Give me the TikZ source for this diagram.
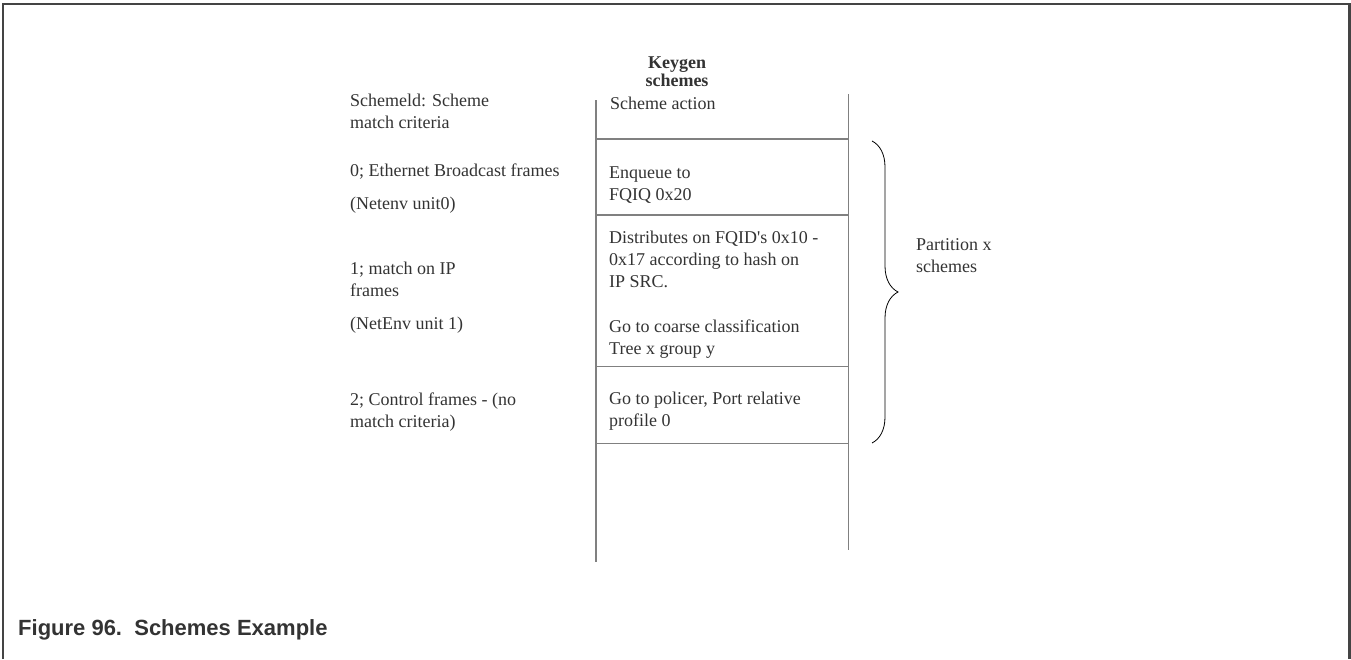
\documentclass[tikz,border=0pt]{standalone}
\usepackage{fontspec}
\setmainfont{Liberation Serif}
\newfontfamily\capfont{Liberation Sans}
\usetikzlibrary{decorations.pathreplacing}
\definecolor{framec}{HTML}{444444}
\definecolor{tablec}{HTML}{808080}
\definecolor{txt}{HTML}{333333}
\begin{document}
\begin{tikzpicture}[x=1pt,y=-1pt,
  lbl/.style={anchor=west,inner sep=0pt,align=left,text=txt,font=\fontsize{18}{22}\selectfont},
  tline/.style={draw=tablec,line width=1.4pt},
  framel/.style={draw=framec,line width=2.6pt}]
\useasboundingbox (0,0) rectangle (1351,659);
% frame
\draw[framel] (3,659) -- (3,4) -- (1349.5,4) -- (1349.5,659);
% table
\coordinate (tl) at (596,100);
\coordinate (bl) at (596,562);
\coordinate (tr) at (848.5,94);
\coordinate (br) at (848.5,550);
\draw[tline] (tl) -- (bl);
\draw[tline] (tr) -- (br);
\foreach \yy/\nm in {139/h1,215/h2,366.5/h3,443.5/h4}{
  \coordinate (\nm a) at (596,\yy);
  \coordinate (\nm b) at (848.5,\yy);
  \draw[tline] (\nm a) -- (\nm b);
}
% header
\node[lbl,anchor=center,align=center,font=\bfseries\fontsize{18}{18}\selectfont] (hdr) at (677,72) {Keygen\\schemes};
% actions
\node[lbl] (a0) at (610,103) {Scheme action};
\node[lbl] (a1) at (609,185) {Enqueue to\\FQIQ 0x20};
\node[lbl] (a2) at (609,259) {Distributes on FQID\textquotesingle s 0x10 -\\0x17 according to hash on\\IP SRC.};
\node[lbl] (a3) at (609,339) {Go to coarse classification\\Tree x group y};
\node[lbl] (a4) at (609,411) {Go to policer, Port relative\\profile 0};
% left criteria
\node[lbl] (c0) at (350,111) {Schemeld: Scheme\\match criteria};
\node[lbl] (c1) at (350,172) {0; Ethernet Broadcast frames};
\node[lbl] (c1b) at (350,205) {(Netenv unit0)};
\node[lbl] (c2) at (350,279) {1; match on IP\\frames};
\node[lbl] (c2b) at (350,325) {(NetEnv unit 1)};
\node[lbl] (c3) at (350,412) {2; Control frames - (no\\match criteria)};
% brace
\coordinate (bt) at (872,141);
\coordinate (bb) at (872,443);
\draw[line width=0.8pt,decorate,decoration={brace,amplitude=26pt,aspect=0.5}] (bt) -- (bb);
\node[lbl] (part) at (916,256) {Partition x\\schemes};
% caption
\node[anchor=west,inner sep=0pt,text=txt,font=\capfont\bfseries\fontsize{22}{26}\selectfont] (cap) at (18,630) {Figure 96.\ \ Schemes Example};
\end{tikzpicture}
\end{document}
